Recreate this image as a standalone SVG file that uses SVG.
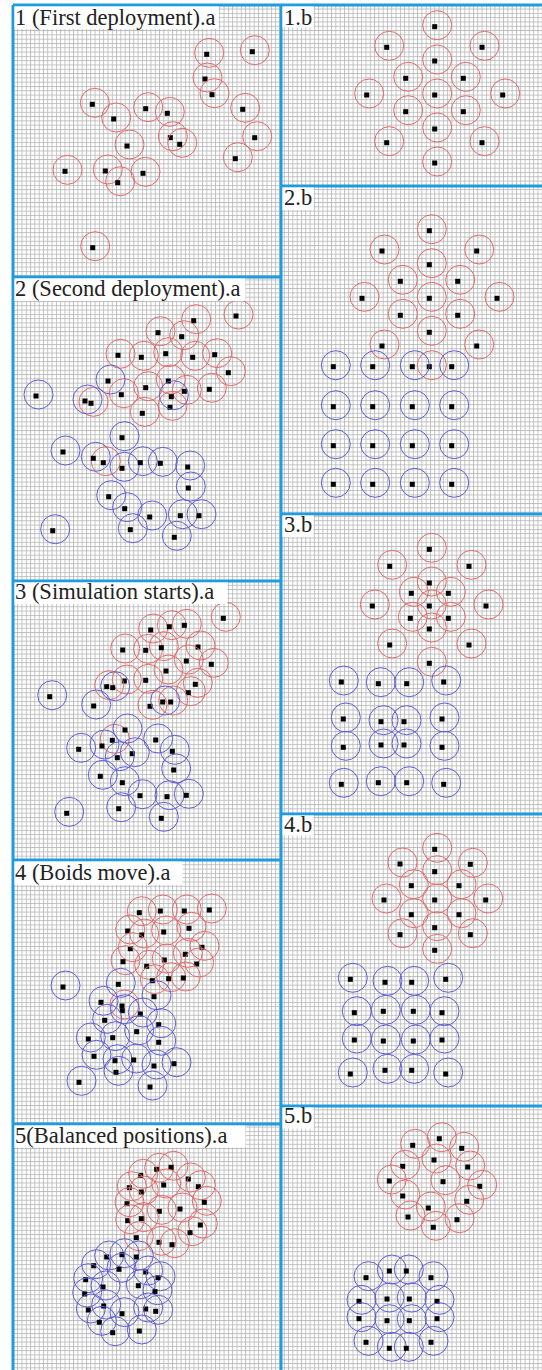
<svg xmlns="http://www.w3.org/2000/svg" xmlns:xlink="http://www.w3.org/1999/xlink" width="542" height="1370" viewBox="0 0 542 1370">
<style>
.lbl{font-family:"Liberation Serif","Times New Roman",serif;font-size:22.5px;fill:#222}
.box{fill:#fff}
.sep{stroke:#1f9ce0;stroke-width:3;fill:none}
.rc{fill:none;stroke:#e26a6a;stroke-width:1}
.bc{fill:none;stroke:#5e5ed8;stroke-width:1}
.dot{fill:#000}
</style>
<defs>
<pattern id="grid" width="4.3" height="4.3" patternUnits="userSpaceOnUse">
<rect width="4.3" height="4.3" fill="#fff"/>
<path d="M0 0.5H4.3M0.5 0V4.3" stroke="#b4b4b4" stroke-width="0.8"/>
</pattern>
<g id="R"><circle class="rc" cx="2.5" cy="-1.5" r="14.5"/><rect class="dot" x="-2.5" y="-2.5" width="5" height="5"/></g>
<g id="B"><circle class="bc" cx="2.5" cy="-1.5" r="14.5"/><rect class="dot" x="-2.5" y="-2.5" width="5" height="5"/></g>
</defs>
<rect width="542" height="1370" fill="#fff"/>
<rect x="13" y="5" width="529" height="1365" fill="url(#grid)"/>

<g id="panel-1a">
<use href="#R" x="206.7" y="54.3"/><use href="#R" x="252.3" y="51.7"/><use href="#R" x="205" y="79"/><use href="#R" x="212" y="94.7"/><use href="#R" x="92.3" y="104.3"/><use href="#R" x="113.7" y="119"/><use href="#R" x="145.7" y="108.7"/><use href="#R" x="167.3" y="113.3"/><use href="#R" x="242.7" y="109.3"/><use href="#R" x="170.3" y="137.7"/><use href="#R" x="179.7" y="144.3"/><use href="#R" x="254.7" y="137.7"/><use href="#R" x="127" y="146"/><use href="#R" x="235.3" y="158.7"/><use href="#R" x="65" y="171.3"/><use href="#R" x="105.3" y="171"/><use href="#R" x="143" y="173.3"/><use href="#R" x="117.7" y="182.7"/><use href="#R" x="92.7" y="247.7"/>
</g>

<g id="panel-1b">
<use href="#R" x="434.7" y="26.7"/><use href="#R" x="386.7" y="47.3"/><use href="#R" x="482" y="47.3"/><use href="#R" x="434.7" y="61"/><use href="#R" x="405.7" y="78.3"/><use href="#R" x="463.3" y="78.3"/><use href="#R" x="366.7" y="95"/><use href="#R" x="434.7" y="95"/><use href="#R" x="502.7" y="95"/><use href="#R" x="405.7" y="111.7"/><use href="#R" x="463.3" y="111.7"/><use href="#R" x="434.7" y="129"/><use href="#R" x="386.7" y="142.7"/><use href="#R" x="482" y="142.7"/><use href="#R" x="434.7" y="163"/>
</g>

<g id="panel-2a">
<use href="#R" x="193.7" y="320.7"/><use href="#R" x="236" y="316"/><use href="#R" x="158" y="332.7"/><use href="#R" x="181.7" y="336.7"/><use href="#R" x="118" y="355.3"/><use href="#R" x="141.3" y="357.3"/><use href="#R" x="165.7" y="353.7"/><use href="#R" x="192.7" y="357.3"/><use href="#R" x="214.7" y="354.7"/><use href="#R" x="228.3" y="372.7"/><use href="#R" x="145.7" y="387.7"/><use href="#R" x="168.3" y="381"/><use href="#R" x="184.3" y="391.3"/><use href="#R" x="209.3" y="389.3"/><use href="#R" x="121.3" y="394.7"/><use href="#R" x="142.3" y="413.3"/><use href="#R" x="170" y="407.3"/><use href="#R" x="91" y="403.3"/><use href="#R" x="103.3" y="462.7"/>
<use href="#B" x="108" y="381"/><use href="#B" x="171.3" y="396.7"/><use href="#B" x="36" y="396"/><use href="#B" x="85" y="401"/><use href="#B" x="122" y="437.7"/><use href="#B" x="63" y="452"/><use href="#B" x="93.3" y="458.3"/><use href="#B" x="122" y="468.3"/><use href="#B" x="140.3" y="462.7"/><use href="#B" x="160.3" y="463.3"/><use href="#B" x="187.7" y="467"/><use href="#B" x="188.3" y="488"/><use href="#B" x="108.7" y="496.7"/><use href="#B" x="124.7" y="508.7"/><use href="#B" x="149.7" y="517"/><use href="#B" x="180.3" y="515.7"/><use href="#B" x="199" y="515.7"/><use href="#B" x="52.7" y="530.7"/><use href="#B" x="130.3" y="529.7"/><use href="#B" x="174.3" y="537.3"/>
</g>

<g id="panel-2b">
<use href="#R" x="429.3" y="230.7"/><use href="#R" x="382" y="251"/><use href="#R" x="476.7" y="251"/><use href="#R" x="429.3" y="264.7"/><use href="#R" x="400.3" y="281.3"/><use href="#R" x="457.7" y="281.3"/><use href="#R" x="362" y="298.3"/><use href="#R" x="429.3" y="298.3"/><use href="#R" x="497" y="298.3"/><use href="#R" x="400.3" y="315.3"/><use href="#R" x="457.7" y="315.3"/><use href="#R" x="429.3" y="332.3"/><use href="#R" x="382" y="346"/><use href="#R" x="476.7" y="346"/><use href="#R" x="429.3" y="366.7"/>
<use href="#B" x="333.3" y="366.7"/><use href="#B" x="372.7" y="366.7"/><use href="#B" x="412.3" y="366.7"/><use href="#B" x="451.7" y="366.7"/>
<use href="#B" x="333.3" y="406.7"/><use href="#B" x="372.7" y="406.7"/><use href="#B" x="412.3" y="406.7"/><use href="#B" x="451.7" y="406.7"/>
<use href="#B" x="333.3" y="445.7"/><use href="#B" x="372.7" y="445.7"/><use href="#B" x="412.3" y="445.7"/><use href="#B" x="451.7" y="445.7"/>
<use href="#B" x="333.3" y="484.3"/><use href="#B" x="372.7" y="484.3"/><use href="#B" x="412.3" y="484.3"/><use href="#B" x="451.7" y="484.3"/>
</g>

<g id="panel-3a">
<use href="#R" x="223.3" y="618.3"/><use href="#R" x="150.7" y="630"/><use href="#R" x="169.3" y="626.7"/><use href="#R" x="184.3" y="625.3"/><use href="#R" x="122.7" y="650"/><use href="#R" x="145.7" y="650.3"/><use href="#R" x="161.3" y="647.7"/><use href="#R" x="198" y="647"/><use href="#R" x="186.3" y="661"/><use href="#R" x="211.3" y="664.3"/><use href="#R" x="166" y="671"/><use href="#R" x="124.3" y="681"/><use href="#R" x="145.7" y="680.3"/><use href="#R" x="195.3" y="684.3"/><use href="#R" x="188.3" y="692.7"/><use href="#R" x="106.7" y="686.7"/><use href="#R" x="150" y="706.3"/><use href="#R" x="170.7" y="702"/><use href="#R" x="112.3" y="740.3"/>
<use href="#B" x="112.7" y="687.7"/><use href="#B" x="49.7" y="696.7"/><use href="#B" x="93.7" y="706"/><use href="#B" x="162.7" y="702"/><use href="#B" x="125" y="730"/><use href="#B" x="155.7" y="740"/><use href="#B" x="102" y="746"/><use href="#B" x="78.7" y="749.3"/><use href="#B" x="172.3" y="751.3"/><use href="#B" x="132.3" y="753.7"/><use href="#B" x="117.3" y="757.7"/><use href="#B" x="173.7" y="770"/><use href="#B" x="100.3" y="776.3"/><use href="#B" x="122.3" y="782.7"/><use href="#B" x="140" y="795.7"/><use href="#B" x="167" y="796.7"/><use href="#B" x="186.3" y="795.3"/><use href="#B" x="66.7" y="813.3"/><use href="#B" x="118.7" y="808.7"/><use href="#B" x="161.3" y="818.3"/>
</g>

<g id="panel-3b">
<use href="#R" x="429.3" y="549.3"/><use href="#R" x="389.7" y="566.3"/><use href="#R" x="469" y="566.3"/><use href="#R" x="429.3" y="583"/><use href="#R" x="411.3" y="593.3"/><use href="#R" x="448.3" y="593.3"/><use href="#R" x="372.3" y="606"/><use href="#R" x="429.3" y="606"/><use href="#R" x="486" y="606"/><use href="#R" x="410.3" y="618.3"/><use href="#R" x="448.3" y="618.3"/><use href="#R" x="429.3" y="629"/><use href="#R" x="389.7" y="645"/><use href="#R" x="469" y="645"/><use href="#R" x="429.3" y="663.3"/>
<use href="#B" x="341.3" y="682"/><use href="#B" x="378.3" y="683.7"/><use href="#B" x="406.7" y="683.7"/><use href="#B" x="443.7" y="682"/>
<use href="#B" x="343.3" y="719"/><use href="#B" x="381" y="721.7"/><use href="#B" x="404" y="721.7"/><use href="#B" x="442" y="719"/>
<use href="#B" x="343.3" y="747.3"/><use href="#B" x="381" y="745"/><use href="#B" x="404" y="745"/><use href="#B" x="442" y="747.3"/>
<use href="#B" x="341.3" y="784.3"/><use href="#B" x="378.3" y="782.7"/><use href="#B" x="406.7" y="782.7"/><use href="#B" x="443.7" y="784.3"/>
</g>

<g id="panel-4a">
<use href="#R" x="139.3" y="912.7"/><use href="#R" x="160.3" y="911"/><use href="#R" x="184.3" y="911"/><use href="#R" x="209.3" y="910"/><use href="#R" x="127.7" y="931"/><use href="#R" x="141.7" y="935"/><use href="#R" x="163.7" y="932"/><use href="#R" x="189" y="928.3"/><use href="#R" x="202" y="947.3"/><use href="#R" x="130.3" y="948.7"/><use href="#R" x="185.3" y="954.3"/><use href="#R" x="164.3" y="960"/><use href="#R" x="196.7" y="964"/><use href="#R" x="123" y="961.7"/><use href="#R" x="146.7" y="966.3"/><use href="#R" x="152.3" y="980.7"/><use href="#R" x="168.7" y="978.7"/><use href="#R" x="183.3" y="978"/><use href="#R" x="122" y="1006"/>
<use href="#B" x="63" y="987"/><use href="#B" x="118.3" y="984.3"/><use href="#B" x="154" y="996.7"/><use href="#B" x="101" y="1002.3"/><use href="#B" x="122.3" y="1010.7"/><use href="#B" x="140.3" y="1014"/><use href="#B" x="104.7" y="1020.3"/><use href="#B" x="158.7" y="1024.7"/><use href="#B" x="136.7" y="1031.7"/><use href="#B" x="112.7" y="1037.7"/><use href="#B" x="88.3" y="1039"/><use href="#B" x="158.7" y="1042.3"/><use href="#B" x="94" y="1056.3"/><use href="#B" x="115" y="1060.7"/><use href="#B" x="133.7" y="1060"/><use href="#B" x="154" y="1066"/><use href="#B" x="174" y="1063.7"/><use href="#B" x="116" y="1072.3"/><use href="#B" x="79" y="1082.3"/><use href="#B" x="150" y="1087"/>
</g>

<g id="panel-4b">
<use href="#R" x="434.7" y="849.3"/><use href="#R" x="400" y="864"/><use href="#R" x="470.3" y="864.3"/><use href="#R" x="434.7" y="871.7"/><use href="#R" x="411.3" y="885.7"/><use href="#R" x="459" y="885.7"/><use href="#R" x="384" y="900"/><use href="#R" x="434.7" y="900"/><use href="#R" x="485.7" y="900"/><use href="#R" x="411.3" y="914.7"/><use href="#R" x="459" y="914.7"/><use href="#R" x="434.7" y="927.7"/><use href="#R" x="400" y="934.7"/><use href="#R" x="470.3" y="934.7"/><use href="#R" x="434.7" y="950.3"/>
<use href="#B" x="350.3" y="979.3"/><use href="#B" x="385" y="982.3"/><use href="#B" x="411.7" y="982.3"/><use href="#B" x="445.7" y="979.3"/>
<use href="#B" x="354.3" y="1012.7"/><use href="#B" x="383.3" y="1011.3"/><use href="#B" x="413.3" y="1011.3"/><use href="#B" x="442" y="1012.7"/>
<use href="#B" x="354.3" y="1040"/><use href="#B" x="383.3" y="1041"/><use href="#B" x="413.3" y="1041"/><use href="#B" x="442" y="1040"/>
<use href="#B" x="350.3" y="1074"/><use href="#B" x="385" y="1070.3"/><use href="#B" x="411.7" y="1070.3"/><use href="#B" x="445.7" y="1074"/>
</g>

<g id="panel-5a">
<use href="#R" x="156.7" y="1169.3"/><use href="#R" x="171" y="1167.3"/><use href="#R" x="140.7" y="1175.3"/><use href="#R" x="163.7" y="1185"/><use href="#R" x="188.3" y="1179"/><use href="#R" x="198.3" y="1186.7"/><use href="#R" x="129.3" y="1187.7"/><use href="#R" x="141.3" y="1192"/><use href="#R" x="127" y="1203.7"/><use href="#R" x="204.3" y="1202.3"/><use href="#R" x="159.3" y="1211.3"/><use href="#R" x="180" y="1209"/><use href="#R" x="127.7" y="1220.7"/><use href="#R" x="141.3" y="1218.7"/><use href="#R" x="200.3" y="1225"/><use href="#R" x="190" y="1232.7"/><use href="#R" x="136.3" y="1237.7"/><use href="#R" x="159" y="1242.3"/><use href="#R" x="172" y="1244.7"/>
<use href="#B" x="106.7" y="1257"/><use href="#B" x="122" y="1254.7"/><use href="#B" x="136.3" y="1257"/><use href="#B" x="93.7" y="1265.7"/><use href="#B" x="119" y="1269.3"/><use href="#B" x="145.7" y="1272"/><use href="#B" x="158" y="1277.7"/><use href="#B" x="85.7" y="1279.7"/><use href="#B" x="103" y="1287"/><use href="#B" x="138.3" y="1285.7"/><use href="#B" x="155" y="1291.7"/><use href="#B" x="84.7" y="1294"/><use href="#B" x="88.3" y="1310"/><use href="#B" x="103.7" y="1306"/><use href="#B" x="122" y="1313.7"/><use href="#B" x="145.7" y="1309"/><use href="#B" x="155.7" y="1311.3"/><use href="#B" x="99.3" y="1322.3"/><use href="#B" x="112.7" y="1332.7"/><use href="#B" x="139.3" y="1331"/>
</g>

<g id="panel-5b">
<use href="#R" x="412.7" y="1145.3"/><use href="#R" x="439.3" y="1138.7"/><use href="#R" x="461.7" y="1148.3"/><use href="#R" x="402.7" y="1166.3"/><use href="#R" x="434" y="1160"/><use href="#R" x="467.7" y="1167"/><use href="#R" x="389.3" y="1181"/><use href="#R" x="443" y="1181.7"/><use href="#R" x="479.7" y="1186.3"/><use href="#R" x="402.7" y="1196"/><use href="#R" x="466.7" y="1201.3"/><use href="#R" x="428.3" y="1208"/><use href="#R" x="408" y="1217"/><use href="#R" x="457" y="1219.7"/><use href="#R" x="433.3" y="1227.3"/>
<use href="#B" x="366" y="1277.7"/><use href="#B" x="389.3" y="1271"/><use href="#B" x="406.3" y="1271"/><use href="#B" x="431" y="1277.7"/>
<use href="#B" x="359" y="1301.3"/><use href="#B" x="387" y="1299"/><use href="#B" x="409.3" y="1299"/><use href="#B" x="437" y="1301.3"/>
<use href="#B" x="359" y="1318.7"/><use href="#B" x="387" y="1320.7"/><use href="#B" x="409.3" y="1320.7"/><use href="#B" x="437" y="1318.7"/>
<use href="#B" x="366" y="1342.3"/><use href="#B" x="389.3" y="1348.3"/><use href="#B" x="406.3" y="1348.3"/><use href="#B" x="431" y="1342.3"/>
</g>

<g id="frames">
<path class="sep" d="M13 5V1370M281 5V1370M13 5H542M13 277H281M13 581H281M13 860H281M13 1124H281M281 186H542M281 514H542M281 814H542M281 1106H542"/>
</g>

<g id="labels">
<rect class="box" x="14.5" y="6.5" width="204" height="22.5"/>
<text class="lbl" x="15" y="25">1 (First deployment).a</text>
<rect class="box" x="14.5" y="278.5" width="231" height="22.5"/>
<text class="lbl" x="15" y="296">2 (Second deployment).a</text>
<rect class="box" x="14.5" y="582.5" width="213" height="21.5"/>
<text class="lbl" x="15" y="599">3 (Simulation starts).a</text>
<rect class="box" x="14.5" y="861.5" width="168" height="23.5"/>
<text class="lbl" x="15" y="880">4 (Boids move).a</text>
<rect class="box" x="14.5" y="1125.5" width="231" height="22"/>
<text class="lbl" x="15" y="1143">5(Balanced positions).a</text>
<rect class="box" x="282.5" y="6.5" width="31" height="21"/>
<text class="lbl" x="284" y="25">1.b</text>
<rect class="box" x="282.5" y="187.5" width="31" height="22.5"/>
<text class="lbl" x="284" y="205">2.b</text>
<rect class="box" x="282.5" y="515.5" width="31" height="21.5"/>
<text class="lbl" x="284" y="532">3.b</text>
<rect class="box" x="282.5" y="815.5" width="31" height="20"/>
<text class="lbl" x="284" y="832">4.b</text>
<rect class="box" x="282.5" y="1107.5" width="31" height="21"/>
<text class="lbl" x="284" y="1123">5.b</text>
</g>
</svg>
